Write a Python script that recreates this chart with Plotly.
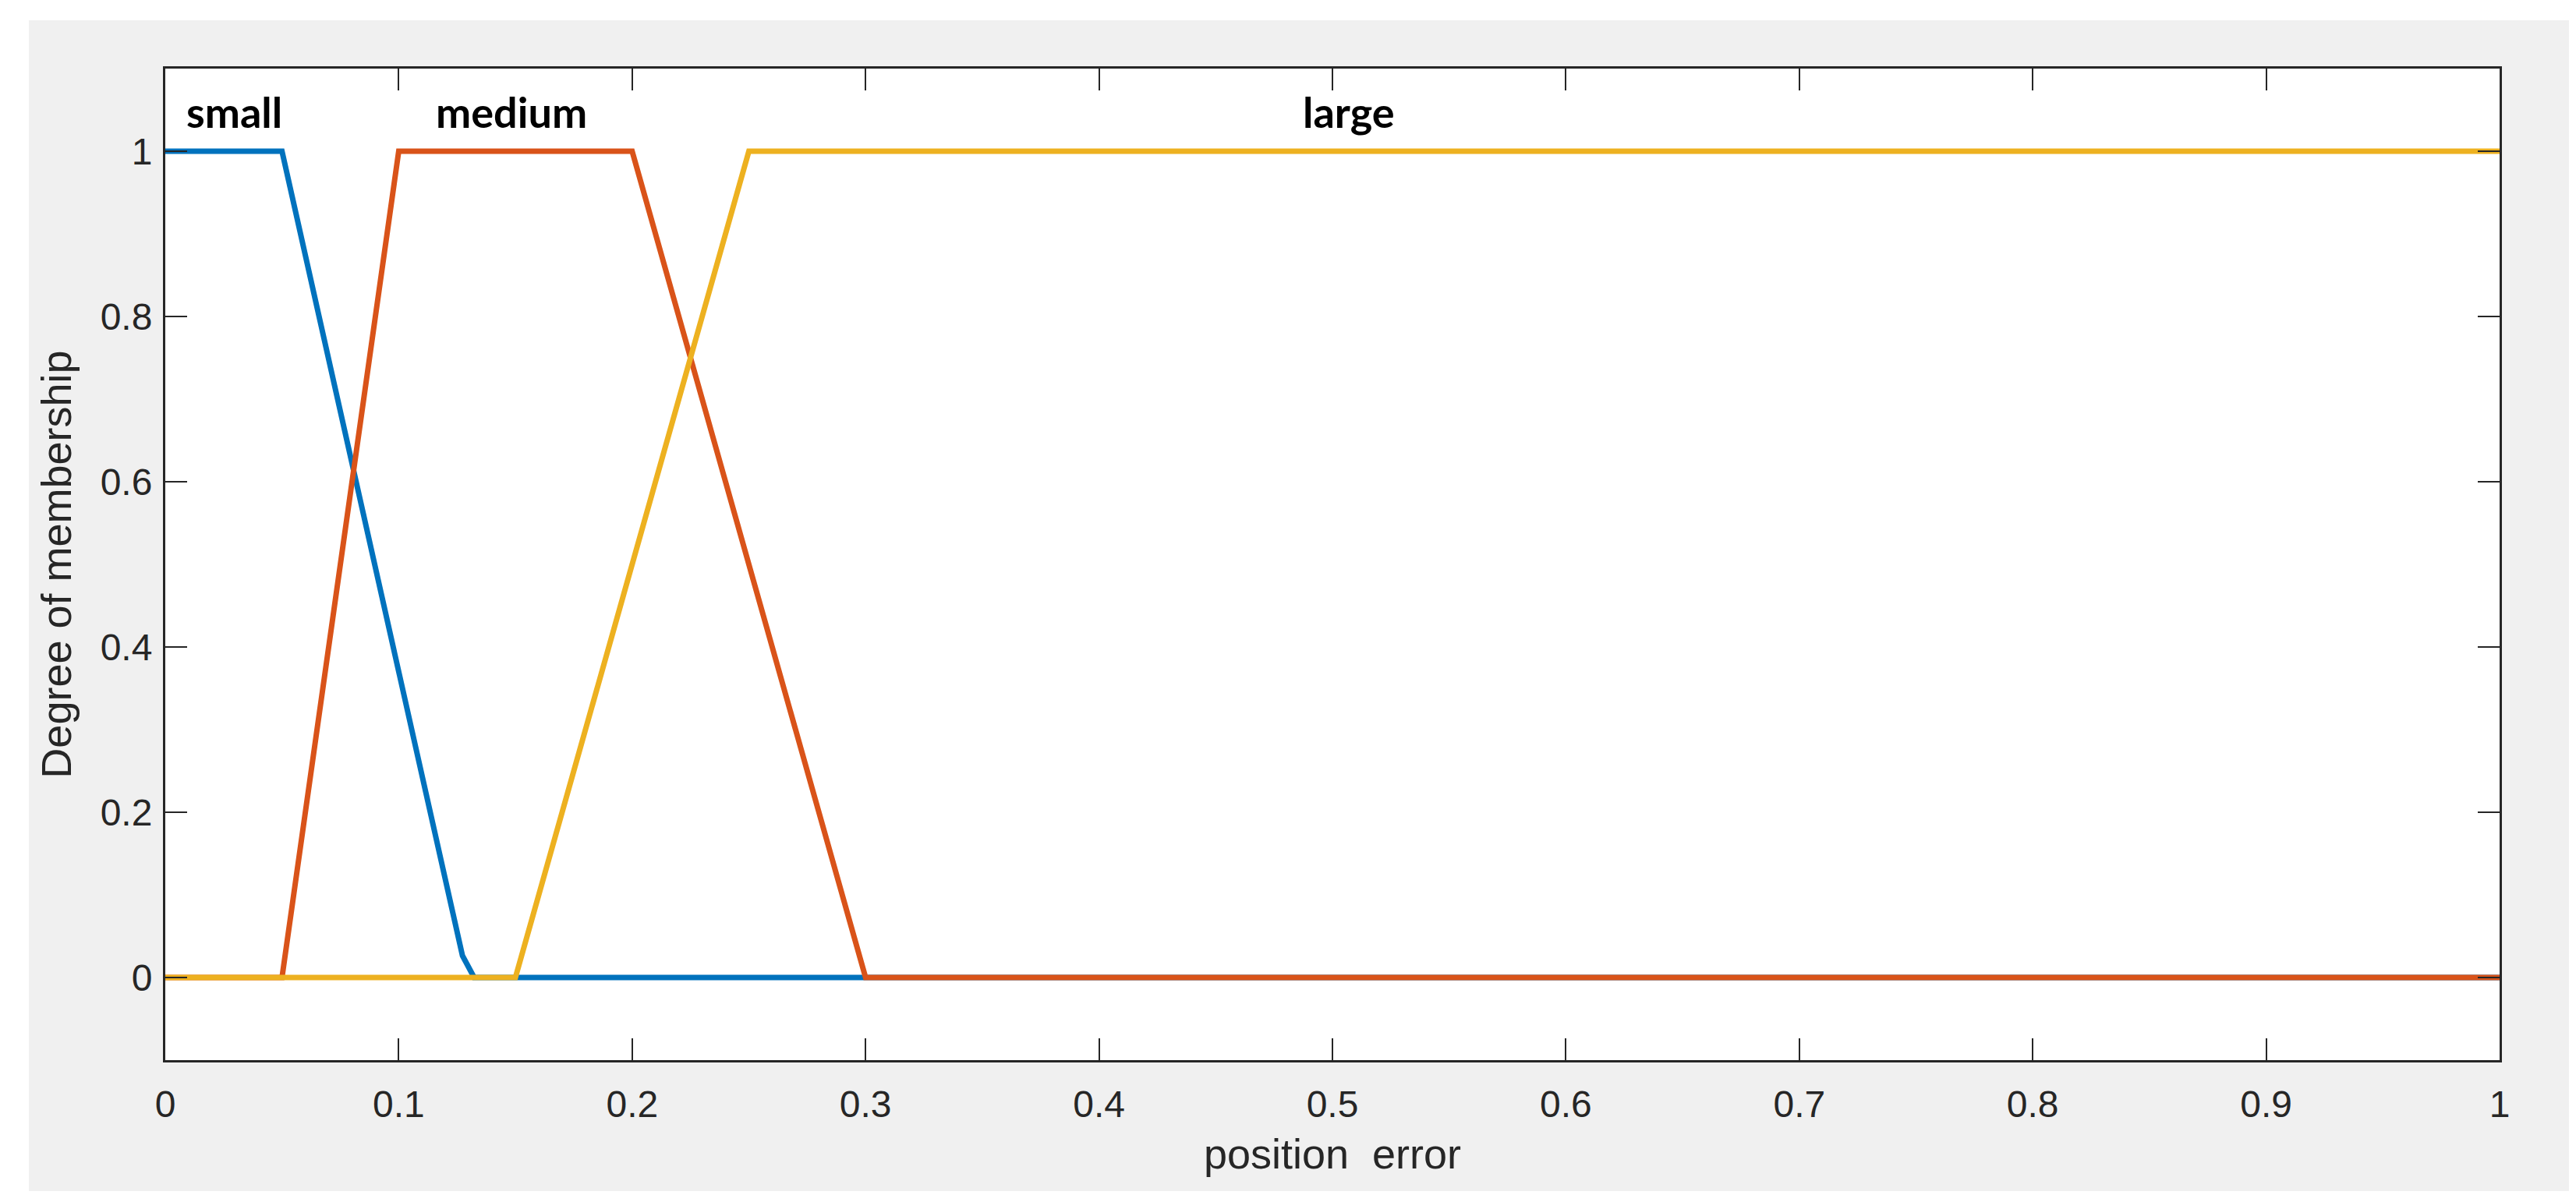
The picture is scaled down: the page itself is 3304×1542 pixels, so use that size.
import plotly.graph_objects as go

# ---- data ----
small_x = [0.0, 0.05, 0.1273, 0.1323, 1.0]
small_y = [1.0, 1.0, 0.0264, 0.0, 0.0]
medium_x = [0.0, 0.05, 0.10, 0.20, 0.30, 1.0]
medium_y = [0.0, 0.0, 1.0, 1.0, 0.0, 0.0]
large_x = [0.0, 0.15, 0.25, 1.0]
large_y = [0.0, 0.0, 1.0, 1.0]

x_ticks = [0, 0.1, 0.2, 0.3, 0.4, 0.5, 0.6, 0.7, 0.8, 0.9, 1]
x_tick_labels = ["0", "0.1", "0.2", "0.3", "0.4", "0.5", "0.6", "0.7", "0.8", "0.9", "1"]
y_ticks = [0, 0.2, 0.4, 0.6, 0.8, 1]
y_tick_labels = ["0", "0.2", "0.4", "0.6", "0.8", "1"]

labels = ["small", "medium", "large"]
label_x = [0.0297, 0.1484, 0.507]
label_y = [1.048, 1.048, 1.048]

colors = ["#0072BD", "#D95319", "#EDB120"]

# ---- layout geometry (pixels) ----
W, H = 3304, 1542
L, R, T, B = 204, 3198, 80, 1352
pw, ph = R - L, B - T

def px2paper_x(px):
    return (px - L) / pw

def px2paper_y(py):
    return (B - py) / ph

fig = go.Figure()
for xs, ys, c in [(small_x, small_y, colors[0]), (medium_x, medium_y, colors[1]), (large_x, large_y, colors[2])]:
    fig.add_trace(go.Scatter(x=xs, y=ys, mode="lines", line=dict(color=c, width=7), showlegend=False, hoverinfo="skip"))

for t, xx, yy in zip(labels, label_x, label_y):
    fig.add_annotation(x=xx, y=yy, text="<b>%s</b>" % t, showarrow=False, xanchor="center", yanchor="middle",
                       font=dict(family="Lato", size=54, color="#000000"))

# white outer frame around the grey figure area
gx0, gy0, gx1, gy1 = 29, 18, 3287, 1520
strips = [
    (-10, -10, gx0, H + 10),
    (gx1, -10, W + 10, H + 10),
    (-10, -10, W + 10, gy0),
    (-10, gy1, W + 10, H + 10),
]
for x0, y0, x1, y1 in strips:
    fig.add_shape(type="rect", xref="paper", yref="paper",
                  x0=px2paper_x(x0), x1=px2paper_x(x1), y0=px2paper_y(y1), y1=px2paper_y(y0),
                  fillcolor="white", line=dict(width=0), layer="below")

axis_common = dict(showline=True, linecolor="#262626", linewidth=3, mirror="ticks", ticks="inside",
                   ticklen=28, tickwidth=2, tickcolor="#262626", showgrid=False, zeroline=False,
                   tickfont=dict(family="Liberation Sans", size=48, color="#262626"))

fig.update_layout(
    width=W, height=H,
    margin=dict(l=L, r=W - R, t=T, b=H - B, pad=0),
    paper_bgcolor="#f0f0f0", plot_bgcolor="white",
    xaxis=dict(range=[0, 1], tickmode="array", tickvals=x_ticks, ticktext=x_tick_labels,
               ticklabelstandoff=12,
               title=dict(text="position\u00a0\u00a0error", standoff=20,
                          font=dict(family="Liberation Sans", size=54, color="#262626")),
               **axis_common),
    yaxis=dict(range=[-0.1, 1.1], tickmode="array", tickvals=y_ticks, ticktext=y_tick_labels,
               ticklabelstandoff=4,
               title=dict(text="Degree of membership", standoff=20,
                          font=dict(family="Liberation Sans", size=54, color="#262626")),
               **axis_common),
)

fig.write_html("out.html")
